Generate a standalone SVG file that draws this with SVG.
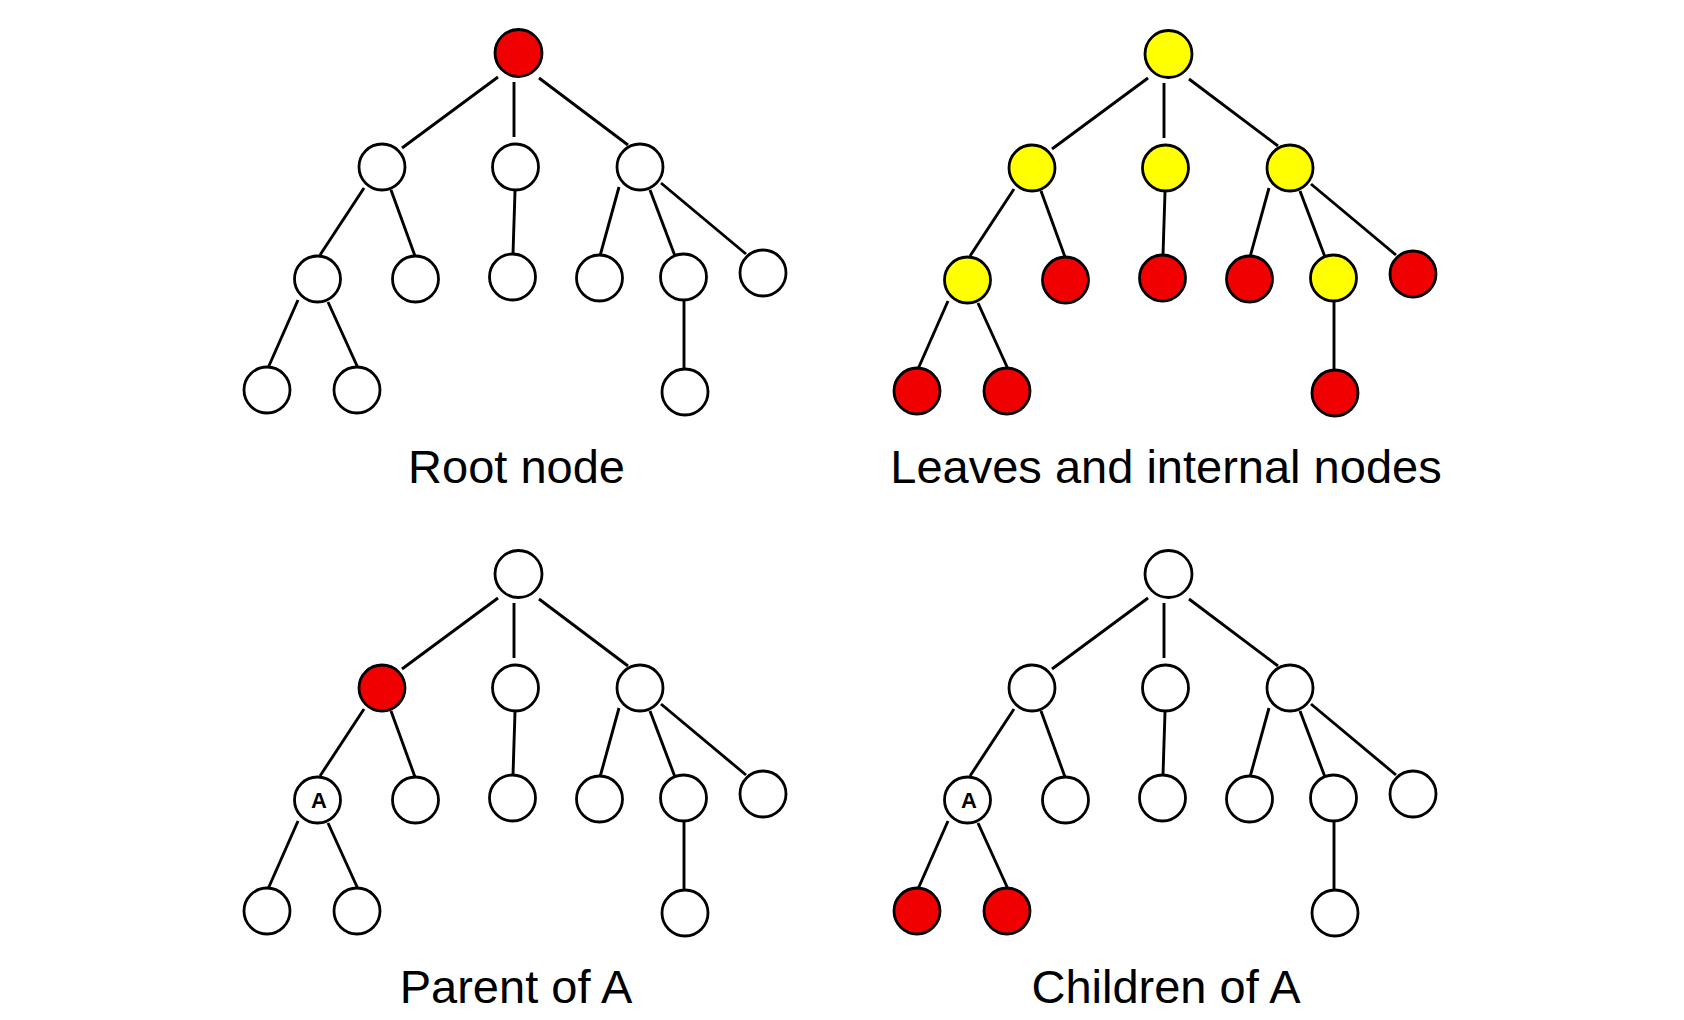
<svg xmlns="http://www.w3.org/2000/svg" width="1684" height="1020" viewBox="0 0 1684 1020">
<style>
  .bg{fill:#ffffff}
  .edge{stroke:#000;stroke-width:2.9;fill:none}
  .n{stroke:#000;stroke-width:2.8}
  .w{fill:#ffffff}
  .r{fill:#f00000}
  .y{fill:#ffff00}
  .lbl{font-family:"Liberation Sans",Arial,sans-serif;font-size:47px;fill:#000;text-anchor:middle}
  .a{font-family:"Liberation Sans",Arial,sans-serif;font-size:22px;font-weight:bold;fill:#000;text-anchor:middle}
</style>
<defs>
  <g id="edges">
    <line x1="498" y1="77" x2="402" y2="148"/>
    <line x1="514" y1="82" x2="514" y2="137"/>
    <line x1="539" y1="78" x2="628" y2="145"/>
    <line x1="364" y1="188" x2="320" y2="255"/>
    <line x1="391" y1="190" x2="415" y2="256"/>
    <line x1="515" y1="191" x2="513" y2="254"/>
    <line x1="619" y1="187" x2="600" y2="256"/>
    <line x1="650" y1="190" x2="675" y2="256"/>
    <line x1="661" y1="183" x2="746" y2="254"/>
    <line x1="298" y1="300" x2="268" y2="368"/>
    <line x1="328" y1="302" x2="358" y2="368"/>
    <line x1="684" y1="300" x2="684" y2="369"/>
  </g>
</defs>
<rect class="bg" x="0" y="0" width="1684" height="1020"/>

<!-- Panel 1: Root node -->
<g id="panel-root">
  <g id="p1-connectors" class="edge"><use href="#edges"/></g>
  <g id="p1-n0"><circle class="n r" cx="518.5" cy="53" r="23.5"/></g>
  <g id="p1-n1"><circle class="n w" cx="382" cy="167" r="23"/></g>
  <g id="p1-n2"><circle class="n w" cx="515.5" cy="167" r="23"/></g>
  <g id="p1-n3"><circle class="n w" cx="640" cy="167" r="23"/></g>
  <g id="p1-n4"><circle class="n w" cx="317.5" cy="279" r="23"/></g>
  <g id="p1-n5"><circle class="n w" cx="415.5" cy="279" r="23"/></g>
  <g id="p1-n6"><circle class="n w" cx="512.5" cy="277" r="23"/></g>
  <g id="p1-n7"><circle class="n w" cx="599.5" cy="278" r="23"/></g>
  <g id="p1-n8"><circle class="n w" cx="683.5" cy="277" r="23"/></g>
  <g id="p1-n9"><circle class="n w" cx="763" cy="273" r="23"/></g>
  <g id="p1-n10"><circle class="n w" cx="267" cy="390" r="23"/></g>
  <g id="p1-n11"><circle class="n w" cx="357" cy="390" r="23"/></g>
  <g id="p1-n12"><circle class="n w" cx="685" cy="392" r="23"/></g>
  <text class="lbl" x="516.5" y="483">Root node</text>
</g>

<!-- Panel 2: Leaves and internal nodes -->
<g id="panel-leaves" transform="translate(650,1)">
  <g id="p2-connectors" class="edge"><use href="#edges"/></g>
  <g id="p2-n0"><circle class="n y" cx="518.5" cy="53" r="23.5"/></g>
  <g id="p2-n1"><circle class="n y" cx="382" cy="167" r="23"/></g>
  <g id="p2-n2"><circle class="n y" cx="515.5" cy="167" r="23"/></g>
  <g id="p2-n3"><circle class="n y" cx="640" cy="167" r="23"/></g>
  <g id="p2-n4"><circle class="n y" cx="317.5" cy="279" r="23"/></g>
  <g id="p2-n5"><circle class="n r" cx="415.5" cy="279" r="23"/></g>
  <g id="p2-n6"><circle class="n r" cx="512.5" cy="277" r="23"/></g>
  <g id="p2-n7"><circle class="n r" cx="599.5" cy="278" r="23"/></g>
  <g id="p2-n8"><circle class="n y" cx="683.5" cy="277" r="23"/></g>
  <g id="p2-n9"><circle class="n r" cx="763" cy="273" r="23"/></g>
  <g id="p2-n10"><circle class="n r" cx="267" cy="390" r="23"/></g>
  <g id="p2-n11"><circle class="n r" cx="357" cy="390" r="23"/></g>
  <g id="p2-n12"><circle class="n r" cx="685" cy="392" r="23"/></g>
  <text class="lbl" x="516" y="482">Leaves and internal nodes</text>
</g>

<!-- Panel 3: Parent of A -->
<g id="panel-parent" transform="translate(0,521)">
  <g id="p3-connectors" class="edge"><use href="#edges"/></g>
  <g id="p3-n0"><circle class="n w" cx="518.5" cy="53" r="23.5"/></g>
  <g id="p3-n1"><circle class="n r" cx="382" cy="167" r="23"/></g>
  <g id="p3-n2"><circle class="n w" cx="515.5" cy="167" r="23"/></g>
  <g id="p3-n3"><circle class="n w" cx="640" cy="167" r="23"/></g>
  <g id="p3-n4"><circle class="n w" cx="317.5" cy="279" r="23"/><text class="a" x="319" y="287">A</text></g>
  <g id="p3-n5"><circle class="n w" cx="415.5" cy="279" r="23"/></g>
  <g id="p3-n6"><circle class="n w" cx="512.5" cy="277" r="23"/></g>
  <g id="p3-n7"><circle class="n w" cx="599.5" cy="278" r="23"/></g>
  <g id="p3-n8"><circle class="n w" cx="683.5" cy="277" r="23"/></g>
  <g id="p3-n9"><circle class="n w" cx="763" cy="273" r="23"/></g>
  <g id="p3-n10"><circle class="n w" cx="267" cy="390" r="23"/></g>
  <g id="p3-n11"><circle class="n w" cx="357" cy="390" r="23"/></g>
  <g id="p3-n12"><circle class="n w" cx="685" cy="392" r="23"/></g>
  <text class="lbl" x="516" y="482">Parent of A</text>
</g>

<!-- Panel 4: Children of A -->
<g id="panel-children" transform="translate(650,521)">
  <g id="p4-connectors" class="edge"><use href="#edges"/></g>
  <g id="p4-n0"><circle class="n w" cx="518.5" cy="53" r="23.5"/></g>
  <g id="p4-n1"><circle class="n w" cx="382" cy="167" r="23"/></g>
  <g id="p4-n2"><circle class="n w" cx="515.5" cy="167" r="23"/></g>
  <g id="p4-n3"><circle class="n w" cx="640" cy="167" r="23"/></g>
  <g id="p4-n4"><circle class="n w" cx="317.5" cy="279" r="23"/><text class="a" x="319" y="287">A</text></g>
  <g id="p4-n5"><circle class="n w" cx="415.5" cy="279" r="23"/></g>
  <g id="p4-n6"><circle class="n w" cx="512.5" cy="277" r="23"/></g>
  <g id="p4-n7"><circle class="n w" cx="599.5" cy="278" r="23"/></g>
  <g id="p4-n8"><circle class="n w" cx="683.5" cy="277" r="23"/></g>
  <g id="p4-n9"><circle class="n w" cx="763" cy="273" r="23"/></g>
  <g id="p4-n10"><circle class="n r" cx="267" cy="390" r="23"/></g>
  <g id="p4-n11"><circle class="n r" cx="357" cy="390" r="23"/></g>
  <g id="p4-n12"><circle class="n w" cx="685" cy="392" r="23"/></g>
  <text class="lbl" x="516" y="482">Children of A</text>
</g>
</svg>
